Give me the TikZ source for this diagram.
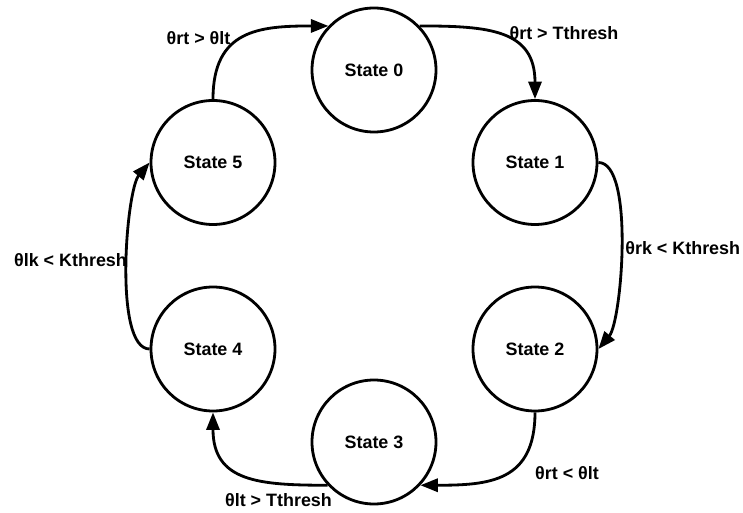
\documentclass[tikz,border=0pt]{standalone}
\usepackage{fontspec}
\setmainfont{Liberation Sans}
\usepackage{tikz}
\usetikzlibrary{arrows.meta}
\tikzset{
  state/.style={circle, draw=black, line width=1.6pt, minimum size=2.48cm, inner sep=0pt, font=\fontsize{10.2}{12}\selectfont\bfseries},
  trans/.style={draw=black, line width=1.6pt, -{Triangle[length=10pt,width=7.5pt]}},
  lab/.style={font=\fontsize{10.2}{12}\selectfont\bfseries, inner sep=0pt},
}

\begin{document}
\begin{tikzpicture}
  \useasboundingbox (0,0) rectangle (14.86,10.24);
  % six states on a ring
  \node[state] (s0) at (7.48,8.84) {State 0};
  \node[state] (s1) at (10.70,6.99) {State 1};
  \node[state] (s2) at (10.70,3.26) {State 2};
  \node[state] (s3) at (7.48,1.40) {State 3};
  \node[state] (s4) at (4.26,3.26) {State 4};
  \node[state] (s5) at (4.26,6.99) {State 5};
  % transitions, clockwise
  \draw[trans] (s5.north) to[out=90,in=180,looseness=1.3] (s0.136);
  \draw[trans] (s0.44) to[out=0,in=90,looseness=1.3] (s1.north);
  \draw[trans] (s1.east) to[out=0,in=50,looseness=0.5] (s2.east);
  \draw[trans] (s2.south) to[out=-90,in=0,looseness=1.3] (s3.-43);
  \draw[trans] (s3.-137) to[out=180,in=-90,looseness=1.3] (s4.south);
  \draw[trans] (s4.west) to[out=180,in=-130,looseness=0.5] (s5.west);
  % conditions
  \node[lab] (c50) at (3.97,9.48) {θrt > θlt};
  \node[lab] (c01) at (11.28,9.58) {θrt > Tthresh};
  \node[lab,anchor=west] (c12) at (12.50,5.28) {θrk < Kthresh};
  \node[lab] (c23) at (11.34,0.78) {θrt < θlt};
  \node[lab] (c34) at (5.57,0.24) {θlt > Tthresh};
  \node[lab] (c45) at (1.41,5.04) {θlk < Kthresh};
\end{tikzpicture}
\end{document}
